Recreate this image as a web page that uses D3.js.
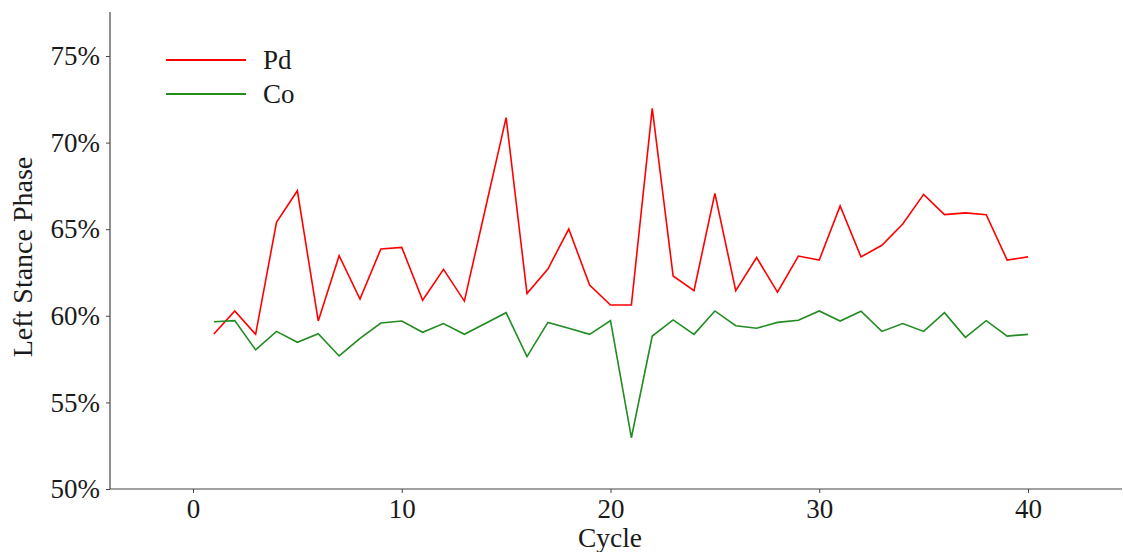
<!DOCTYPE html>
<html>
<head>
<meta charset="utf-8">
<script src="https://cdn.jsdelivr.net/npm/d3@7"></script>
<style>
  body { margin: 0; background: #fff; }
  svg text { font-family: "Liberation Serif", "DejaVu Serif", serif; fill: #1a1a1a; }
</style>
</head>
<body>
<div id="chart"></div>
<script>
// cycle numbers and stance phase (%) per series
var cycles = d3.range(1, 41);
var pdValues = [58.95, 60.28, 58.93, 65.4, 67.22, 59.7, 63.47, 60.97, 63.86, 63.95,
                60.9, 62.68, 60.85, 66.15, 71.44, 61.28, 62.7, 65.01, 61.78, 60.62,
                60.62, 71.98, 62.3, 61.45, 67.07, 61.45, 63.36, 61.36, 63.45, 63.22,
                66.34, 63.4, 64.07, 65.3, 67.01, 65.84, 65.94, 65.84, 63.22, 63.4];
var coValues = [59.66, 59.72, 58.03, 59.1, 58.47, 58.97, 57.68, 58.7, 59.58, 59.7,
                59.05, 59.55, 58.93, 59.56, 60.18, 57.64, 59.62, 59.28, 58.93, 59.72,
                52.96, 58.83, 59.76, 58.93, 60.28, 59.43, 59.28, 59.62, 59.74, 60.28,
                59.7, 60.26, 59.1, 59.55, 59.1, 60.18, 58.76, 59.72, 58.83, 58.93];
var seriesNames = ["Pd", "Co"];
var seriesColors = ["#ff0000", "#228b22"];
var xTicks = [0, 10, 20, 30, 40];
var yTicks = [50, 55, 60, 65, 70, 75];

var svgWidth = 1123;
var svgHeight = 552;

var svg = d3.select("#chart")
    .append("svg")
    .attr("width", svgWidth)
    .attr("height", svgHeight);

// axis area: left spine at 110, bottom spine at 489
var x = d3.scaleLinear().domain([0, 40]).range([193, 1028]);
var y = d3.scaleLinear().domain([50, 75]).range([489, 56]);
var xLeft = 110, xRight = 1122, yTop = 12, yBottom = 489;

var axisColor = "#444";

// spines
svg.append("line")
    .attr("x1", xLeft).attr("x2", xLeft)
    .attr("y1", yTop).attr("y2", yBottom)
    .attr("stroke", axisColor).attr("stroke-width", 1.2);
svg.append("line")
    .attr("x1", xLeft).attr("x2", xRight)
    .attr("y1", yBottom).attr("y2", yBottom)
    .attr("stroke", axisColor).attr("stroke-width", 1.2);

// x axis
var xAxis = d3.axisBottom(x)
    .tickValues(xTicks)
    .tickSize(4)
    .tickPadding(6)
    .tickFormat(d3.format("d"));
var gx = svg.append("g")
    .attr("transform", "translate(0," + yBottom + ")")
    .call(xAxis);
gx.select(".domain").remove();
gx.selectAll(".tick line").attr("stroke", axisColor);
gx.selectAll(".tick text")
    .attr("font-size", "27px")
    .style("font-family", "Liberation Serif, serif")
    .attr("fill", "#1a1a1a");

// y axis
var yAxis = d3.axisLeft(y)
    .tickValues(yTicks)
    .tickSize(4)
    .tickPadding(6)
    .tickFormat(function(d) { return d + "%"; });
var gy = svg.append("g")
    .attr("transform", "translate(" + xLeft + ",0)")
    .call(yAxis);
gy.select(".domain").remove();
gy.selectAll(".tick line").attr("stroke", axisColor);
gy.selectAll(".tick text")
    .attr("font-size", "27px")
    .style("font-family", "Liberation Serif, serif")
    .attr("fill", "#1a1a1a");

// axis titles
svg.append("text")
    .attr("x", 610)
    .attr("y", 547)
    .attr("text-anchor", "middle")
    .attr("font-size", "27.5px")
    .text("Cycle");

svg.append("text")
    .attr("transform", "translate(32,257) rotate(-90)")
    .attr("text-anchor", "middle")
    .attr("font-size", "28px")
    .text("Left Stance Phase");

// lines
var line = d3.line()
    .x(function(d, i) { return x(cycles[i]); })
    .y(function(d) { return y(d); });

var allSeries = [pdValues, coValues];

svg.selectAll(".series")
    .data(allSeries)
    .enter()
    .append("path")
    .attr("class", "series")
    .attr("d", line)
    .attr("fill", "none")
    .attr("stroke", function(d, i) { return seriesColors[i]; })
    .attr("stroke-width", 1.6)
    .attr("stroke-linejoin", "miter");

// legend
var legend = svg.selectAll(".legend")
    .data(seriesNames)
    .enter()
    .append("g")
    .attr("class", "legend")
    .attr("transform", function(d, i) {
        return "translate(166," + (60 + i * 34) + ")";
    });

legend.append("line")
    .attr("x1", 0).attr("x2", 80)
    .attr("y1", 0).attr("y2", 0)
    .attr("stroke", function(d, i) { return seriesColors[i]; })
    .attr("stroke-width", 1.8);

legend.append("text")
    .attr("x", 97)
    .attr("y", 9)
    .attr("font-size", "27px")
    .text(function(d) { return d; });
</script>
</body>
</html>
